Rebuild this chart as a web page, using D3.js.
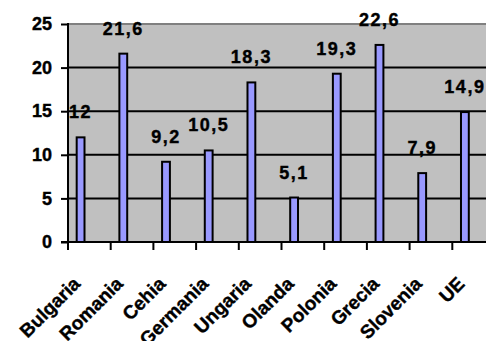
<!DOCTYPE html>
<html><head><meta charset="utf-8">
<script src="https://cdn.jsdelivr.net/npm/d3@7"></script>
<style>body{margin:0;background:#fff}svg{display:block}</style>
</head><body><svg id="c" width="486" height="341"></svg>
<script>
const categories = ["Bulgaria","Romania","Cehia","Germania","Ungaria","Olanda","Polonia","Grecia","Slovenia","UE"];
const values = [12, 21.6, 9.2, 10.5, 18.3, 5.1, 19.3, 22.6, 7.9, 14.9];
const valueLabels = ["12","21,6","9,2","10,5","18,3","5,1","19,3","22,6","7,9","14,9"];
const yTicks = [0, 5, 10, 15, 20, 25];

(function () {
const svg = d3.select("#c");
const pL = 68, pR = 495, pT = 24, pB = 242;
const font = "'Liberation Sans', Arial, sans-serif";

const x = d3.scaleBand().domain(categories).range([pL, pR]).padding(0);
const y = d3.scaleLinear().domain([0, 25]).range([pB, pT]);
const bw = x.bandwidth();

svg.append("rect").attr("x", pL).attr("y", pT).attr("width", pR - pL).attr("height", pB - pT).attr("fill", "#c0c0c0");
svg.append("line").attr("x1", pL).attr("x2", pR).attr("y1", y(25)).attr("y2", y(25)).attr("stroke", "#808080").attr("stroke-width", 2);

svg.append("g").selectAll("line").data(yTicks.filter(d => d > 0 && d < 25)).join("line")
  .attr("x1", pL).attr("x2", pR).attr("y1", d => y(d)).attr("y2", d => y(d))
  .attr("stroke", "#000").attr("stroke-width", 2);

svg.append("g").selectAll("rect").data(values).join("rect")
  .attr("x", (d, i) => x(categories[i]) + bw * 0.18 + 1)
  .attr("width", bw * 0.23 - 2)
  .attr("y", d => y(d))
  .attr("height", d => y(0) - y(d))
  .attr("fill", "#9999ff").attr("stroke", "#000").attr("stroke-width", 2);

const yAxis = d3.axisLeft(y).tickValues(yTicks).tickSize(7).tickPadding(9).tickFormat(d3.format("d"));
const ya = svg.append("g").attr("transform", `translate(${pL},0)`).call(yAxis);
ya.select(".domain").remove();
ya.selectAll(".tick line").attr("stroke", "#000").attr("stroke-width", 2);
ya.selectAll("text").attr("font-family", font).attr("font-weight", "bold").attr("font-size", 18).attr("fill", "#000")
  .attr("stroke", "#000").attr("stroke-width", 0.4);
svg.append("line").attr("x1", pL).attr("x2", pL).attr("y1", pT - 1).attr("y2", pB + 1).attr("stroke", "#000").attr("stroke-width", 2);

svg.append("line").attr("x1", pL - 7).attr("x2", pR).attr("y1", pB).attr("y2", pB).attr("stroke", "#000").attr("stroke-width", 2);
svg.append("g").selectAll("line").data(categories).join("line")
  .attr("x1", d => x(d)).attr("x2", d => x(d)).attr("y1", pB).attr("y2", pB + 8)
  .attr("stroke", "#000").attr("stroke-width", 2);

svg.append("g").selectAll("text").data(categories).join("text")
  .attr("transform", d => `translate(${x(d) + bw / 2 - 8},285) rotate(-45)`)
  .attr("text-anchor", "end")
  .attr("font-family", font).attr("font-weight", "bold").attr("font-size", 19).attr("fill", "#000")
  .attr("stroke", "#000").attr("stroke-width", 0.4)
  .text(d => d);

svg.append("g").selectAll("text").data(values).join("text")
  .attr("x", (d, i) => x(categories[i]) + bw * 0.295)
  .attr("y", d => y(d) - 19)
  .attr("text-anchor", "middle")
  .attr("letter-spacing", 1.5)
  .attr("font-family", font).attr("font-weight", "bold").attr("font-size", 18).attr("fill", "#000")
  .attr("stroke", "#000").attr("stroke-width", 0.4)
  .text((d, i) => valueLabels[i]);
})();
</script></body></html>
